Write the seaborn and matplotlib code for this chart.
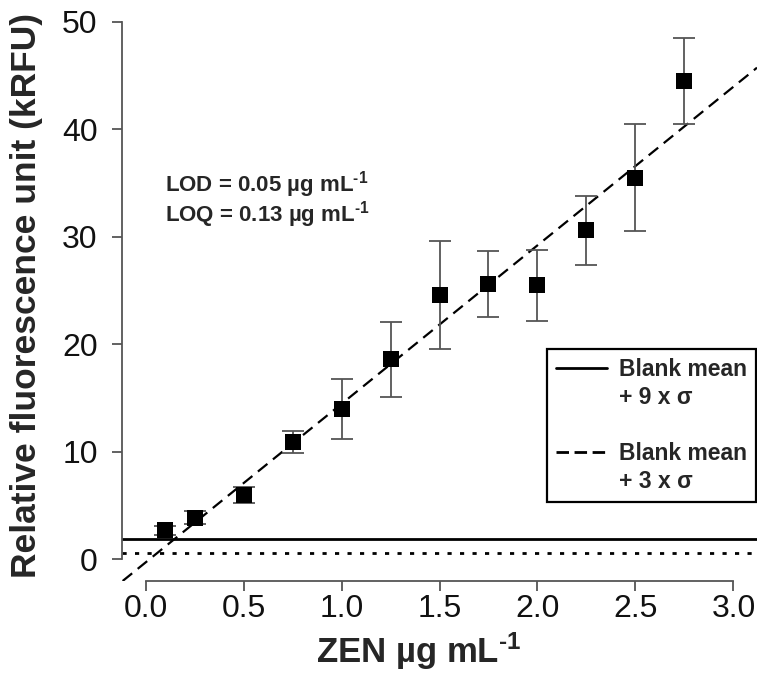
import numpy as np
import pandas as pd
import matplotlib
matplotlib.use('Agg')
import matplotlib.pyplot as plt
from matplotlib.lines import Line2D
import seaborn as sns

# concentrations (ZEN, ug/mL) and mean signal with error (kRFU)
zen_conc = [0.1, 0.25, 0.5, 0.75, 1.0, 1.25, 1.5, 1.75, 2.0, 2.25, 2.5, 2.75]
rfu_mean = [2.7, 3.9, 6.0, 10.9, 14.0, 18.6, 24.6, 25.6, 25.5, 30.6, 35.5, 44.5]
rfu_err = [0.4, 0.6, 0.75, 1.0, 2.8, 3.5, 5.0, 3.1, 3.3, 3.2, 5.0, 4.0]

# linear fit and blank thresholds
fit_slope = 14.74
fit_intercept = -0.28
blank_9sd = 1.86
blank_3sd = 0.56

x_ticks = [0.0, 0.5, 1.0, 1.5, 2.0, 2.5, 3.0]
y_ticks = [0, 10, 20, 30, 40, 50]

df = pd.DataFrame({'conc': zen_conc, 'rfu': rfu_mean, 'err': rfu_err})

sns.set_theme(style='ticks')
plt.rcParams['font.family'] = ['Liberation Sans', 'DejaVu Sans']
plt.rcParams['mathtext.fontset'] = 'custom'
plt.rcParams['mathtext.bf'] = 'Liberation Sans:bold'
plt.rcParams['mathtext.rm'] = 'Liberation Sans:bold'
plt.rcParams['mathtext.default'] = 'bf'

W, H = 757, 675
fig = plt.figure(figsize=(W / 100, H / 100), dpi=100)
ax = fig.add_axes([122 / W, 94 / H, 635 / W, 581 / H])
ax.set_xlim(-0.12, 3.12)
ax.set_ylim(-2, 52)

axis_grey = '#555555'

# thresholds
ax.axhline(blank_9sd, color='black', lw=2.0, zorder=1)
ax.axhline(blank_3sd, color='black', lw=2.0, ls=(0, (1.5, 3.0)), zorder=1)

# regression line
ax.axline((0, fit_intercept), slope=fit_slope, color='black', lw=1.6,
          ls=(0, (5.5, 3.2)), zorder=2)

# error bars and points
ax.errorbar(df['conc'], df['rfu'], yerr=df['err'], fmt='none',
            ecolor=axis_grey, elinewidth=1.3, capsize=8, capthick=1.3, zorder=3)
sns.scatterplot(data=df, x='conc', y='rfu', marker='s', s=145, color='black',
                edgecolor='black', linewidth=0, zorder=4, ax=ax)

# axes styling (R-like detached axes)
sns.despine(ax=ax)
ax.spines['left'].set_bounds(0, 50)
ax.spines['bottom'].set_bounds(0, 3)
for side in ['left', 'bottom']:
    ax.spines[side].set_color(axis_grey)
    ax.spines[side].set_linewidth(1.3)
ax.set_xticks(x_ticks)
ax.set_xticklabels([f'{t:.1f}' for t in x_ticks])
ax.set_yticks(y_ticks)
ax.set_yticklabels([str(t) for t in y_ticks])
ax.tick_params(axis='both', direction='out', length=7.5, width=1.3,
               color=axis_grey, labelsize=23, labelcolor='#111111')
ax.tick_params(axis='y', pad=10)
ax.tick_params(axis='x', pad=2)

ax.set_xlabel(r'ZEN µg mL$^{\text{-1}}$', fontsize=25, fontweight='bold')
ax.set_ylabel('Relative fluorescence unit (kRFU)', fontsize=25.5, fontweight='bold')
ax.xaxis.set_label_coords((419 - 122) / 635, -0.086)
ax.yaxis.set_label_coords((43 - 122) / 635, 0.492)

# LOD / LOQ annotation
ax.text(0.1, 34.2, r'LOD = 0.05 µg mL$^{\text{-1}}$', fontsize=16, fontweight='bold',
        ha='left', va='baseline')
ax.text(0.1, 31.4, r'LOQ = 0.13 µg mL$^{\text{-1}}$', fontsize=16, fontweight='bold',
        ha='left', va='baseline')

# legend
blank = Line2D([], [], color='none')
handles = [Line2D([], [], color='black', lw=2.0), blank, blank,
           Line2D([], [], color='black', lw=2.0, ls=(0, (4.5, 2.0))), blank]
labels = ['Blank mean', '+ 9 x σ', ' ', 'Blank mean', '+ 3 x σ']
leg = ax.legend(handles, labels, loc='upper right', bbox_to_anchor=(0.999, 0.40),
                borderaxespad=0, fancybox=False, framealpha=1, edgecolor='black',
                prop={'size': 16.5, 'weight': 'bold'}, labelspacing=0.22,
                handlelength=2.2, handletextpad=0.55, borderpad=0.4)
leg.get_frame().set_linewidth(1.6)

fig.savefig('out.png', dpi=100)
